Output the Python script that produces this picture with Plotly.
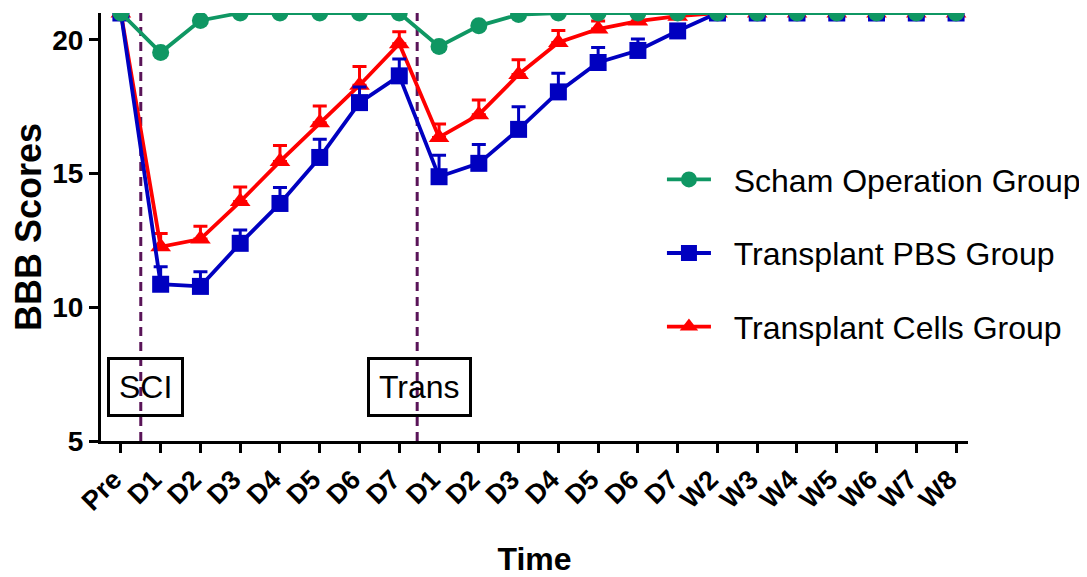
import plotly.graph_objects as go

categories = ["Pre", "D1", "D2", "D3", "D4", "D5", "D6", "D7",
              "D1", "D2", "D3", "D4", "D5", "D6", "D7",
              "W2", "W3", "W4", "W5", "W6", "W7", "W8"]
x_pos = list(range(len(categories)))

sham = [21, 19.52, 20.72, 21, 21, 21, 21, 21,
        19.75, 20.52, 20.94, 21, 21, 21, 21,
        21, 21, 21, 21, 21, 21, 21]
pbs = [21, 10.86, 10.78, 12.39, 13.88, 15.6, 17.65, 18.65,
       14.88, 15.38, 16.65, 18.05, 19.15, 19.6, 20.33,
       21, 21, 21, 21, 21, 21, 21]
pbs_err = [0, 0.65, 0.55, 0.5, 0.6, 0.68, 0.58, 0.63,
           0.8, 0.7, 0.85, 0.7, 0.56, 0.43, 0.1,
           0, 0, 0, 0, 0, 0, 0]
cells = [21, 12.26, 12.55, 13.95, 15.45, 16.9, 18.3, 19.85,
         16.35, 17.2, 18.7, 19.9, 20.4, 20.7, 20.88,
         21, 21, 21, 21, 21, 21, 21]
cells_err = [0, 0.5, 0.48, 0.55, 0.6, 0.62, 0.7, 0.45,
             0.5, 0.55, 0.55, 0.45, 0.3, 0.2, 0.1,
             0, 0, 0, 0, 0, 0, 0]

names = ["Scham Operation Group", "Transplant PBS Group", "Transplant Cells Group"]
GREEN, BLUE, RED = "#0f9763", "#0000c0", "#ff0000"
PURPLE = "#5a1458"
FONT = "Liberation Sans, Arial, sans-serif"
PAD = "&nbsp;&nbsp;"

fig = go.Figure()
fig.add_trace(go.Scatter(
    x=x_pos, y=cells, name=PAD + names[2], mode="lines+markers",
    line=dict(color=RED, width=3.8),
    marker=dict(symbol="triangle-up", size=18, color=RED),
    error_y=dict(type="data", array=cells_err, symmetric=False,
                 arrayminus=[0] * len(cells_err), color=RED, thickness=3, width=7),
    legendgroup="c", legendrank=3))
fig.add_trace(go.Scatter(
    x=x_pos, y=pbs, name=PAD + names[1], mode="lines+markers",
    line=dict(color=BLUE, width=3.8),
    marker=dict(symbol="square", size=17, color=BLUE),
    error_y=dict(type="data", array=pbs_err, symmetric=False,
                 arrayminus=[0] * len(pbs_err), color=BLUE, thickness=3, width=7),
    legendgroup="b", legendrank=2))
fig.add_trace(go.Scatter(
    x=x_pos, y=sham, name=PAD + names[0], mode="lines+markers",
    line=dict(color=GREEN, width=3.8),
    marker=dict(symbol="circle", size=17, color=GREEN),
    legendgroup="a", legendrank=1))

events = [(0.5, "SCI", 5), (7.45, "Trans", 2)]
for xv, label, shift in events:
    fig.add_shape(type="line", x0=xv, x1=xv, y0=5, y1=21, xref="x", yref="y",
                  line=dict(color=PURPLE, width=3, dash="9px,6px"), layer="below")
    fig.add_annotation(x=xv, y=7.03, xref="x", yref="y", text=label, showarrow=False,
                       xshift=shift,
                       font=dict(family=FONT, size=32, color="black"),
                       bordercolor="black", borderwidth=3, borderpad=9,
                       bgcolor="rgba(0,0,0,0)")

fig.update_layout(
    width=1079, height=569,
    margin=dict(l=93, r=119, t=5, b=136, autoexpand=False),
    paper_bgcolor="white", plot_bgcolor="white",
    font=dict(family=FONT, color="black"),
    showlegend=True,
    legend=dict(x=0.647, y=0.675, xanchor="left", yanchor="top",
                font=dict(family=FONT, size=32, color="black"),
                tracegroupgap=29, itemwidth=44, bgcolor="rgba(0,0,0,0)",
                traceorder="grouped"),
    xaxis=dict(
        range=[-0.5, 21.3], tickmode="array", tickvals=x_pos, ticktext=categories,
        tickangle=-45, showgrid=False, zeroline=False, automargin=False,
        showline=True, linecolor="black", linewidth=3,
        ticks="outside", ticklen=9, tickwidth=3, tickcolor="black",
        ticklabelshift=-7,
        tickfont=dict(family=FONT, size=27, color="black", weight="bold"),
        title=dict(text="<b>Time</b>", font=dict(family=FONT, size=32, color="black"),
                   standoff=42)),
    yaxis=dict(
        range=[5, 21], tickvals=[5, 10, 15, 20], showgrid=False, zeroline=False,
        automargin=False,
        showline=True, linecolor="black", linewidth=3,
        ticks="outside", ticklen=9, tickwidth=3, tickcolor="black",
        tickfont=dict(family=FONT, size=28, color="black", weight="bold"),
        title=dict(text="<b>BBB Scores</b>", font=dict(family=FONT, size=36, color="black"),
                   standoff=7)),
)

fig.write_html("out.html")
